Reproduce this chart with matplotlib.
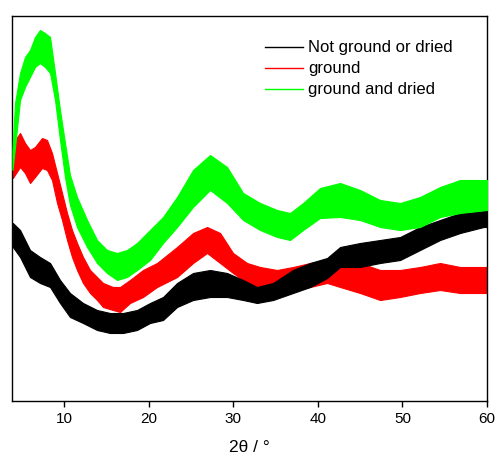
import matplotlib
matplotlib.use("Agg")
import matplotlib.pyplot as plt
from matplotlib.lines import Line2D

plt.rcParams['font.family'] = ['Liberation Sans', 'DejaVu Sans']

# 2theta (deg) and lower / upper envelope of the noisy trace (arb. units)
x_black = [3.9, 4.75, 5.93, 7.11, 8.3, 9.48, 10.66, 12.2, 13.86, 15.4, 16.94, 18.59,
           20.13, 21.67, 23.33, 25.22, 27.23, 29.24, 31.14, 32.79, 34.69, 37.05,
           39.07, 41.08, 42.62, 44.98, 47.35, 49.72, 52.08, 54.45, 56.82, 59.6, 60.0]
lo_black = [154, 144, 124, 118, 114, 98, 84, 78, 71, 68, 68, 71,
            78, 81, 94, 101, 104, 104, 101, 98, 101, 108,
            114, 123, 134, 134, 138, 141, 151, 161, 168, 174, 174]
hi_black = [178, 171, 151, 144, 138, 121, 108, 98, 91, 88, 88, 91,
            98, 104, 118, 128, 131, 128, 121, 114, 118, 131,
            138, 143, 154, 158, 161, 164, 174, 181, 188, 191, 191]

x_red = [3.9, 4.75, 5.34, 5.93, 6.52, 7.35, 7.94, 8.53, 9.13, 9.72, 10.31, 10.9,
         11.49, 12.2, 13.03, 13.86, 14.57, 15.75, 16.58, 17.76, 19.3, 20.96,
         23.33, 25.22, 26.88, 28.42, 29.95, 31.61, 33.15, 35.16, 37.05, 39.07,
         41.08, 42.62, 44.98, 47.35, 49.72, 52.08, 54.45, 56.82, 60.0]
lo_red = [223, 234, 228, 218, 224, 233, 231, 221, 198, 181, 161, 144,
          131, 118, 108, 101, 94, 91, 89, 98, 104, 114,
          124, 138, 148, 138, 128, 118, 114, 108, 111, 114,
          118, 114, 108, 101, 104, 108, 111, 108, 108]
hi_red = [258, 268, 258, 251, 254, 263, 261, 248, 228, 208, 188, 171,
          158, 144, 131, 124, 118, 114, 114, 121, 131, 138,
          154, 168, 174, 168, 148, 138, 134, 131, 134, 138,
          141, 144, 138, 131, 131, 134, 138, 134, 134]

x_green = [3.85, 4.16, 4.75, 5.34, 5.93, 6.52, 7.11, 7.7, 8.3, 8.89, 9.48, 10.07,
           10.66, 11.49, 12.68, 13.86, 15.04, 16.23, 17.41, 18.59, 20.13, 21.67,
           23.33, 25.22, 27.23, 29.24, 31.14, 33.15, 35.16, 36.7, 38.24, 40.25,
           42.62, 44.98, 47.35, 49.72, 52.08, 54.45, 56.82, 60.0]
lo_green = [231, 254, 301, 314, 324, 334, 338, 334, 328, 301, 261, 224,
            196, 174, 154, 138, 128, 121, 124, 131, 141, 158,
            174, 194, 211, 198, 181, 171, 164, 161, 171, 183,
            184, 181, 174, 171, 174, 184, 188, 191]
hi_green = [251, 298, 328, 344, 351, 364, 371, 368, 364, 328, 291, 258,
            226, 204, 181, 161, 151, 148, 151, 158, 171, 184,
            204, 231, 246, 234, 208, 198, 191, 188, 198, 213,
            218, 211, 201, 198, 204, 214, 221, 221]

labels = ["Not ground or dried", "ground", "ground and dried"]
colors = ["#000000", "#ff0000", "#00ff00"]

fig = plt.figure(figsize=(4.96, 4.59), dpi=100)
ax = fig.add_axes([12/496, 1 - 401/459, (487 - 12)/496, (401 - 16)/459])

series = [(x_red, lo_red, hi_red, colors[1], 1),
          (x_black, lo_black, hi_black, colors[0], 2),
          (x_green, lo_green, hi_green, colors[2], 3)]
for xs, lo, hi, c, z in series:
    ax.fill_between(xs, lo, hi, color=c, lw=0.8, edgecolor=c, zorder=z)

ax.set_xlim(3.8, 60)
ax.set_ylim(0, 385)
ax.set_yticks([])
ax.set_xticks([10, 20, 30, 40, 50, 60])
ax.tick_params(axis='x', direction='out', length=4, width=1, labelsize=11, pad=4)
for s in ax.spines.values():
    s.set_linewidth(1.0)
ax.set_xlabel("2θ / °", fontsize=12.5, labelpad=10)

handles = [Line2D([], [], color=c, lw=1) for c in colors]
ax.legend(handles, labels, loc='upper left', bbox_to_anchor=(0.518, 0.954),
          frameon=False, fontsize=12, handlelength=2.3, handletextpad=0.3,
          labelspacing=0.36, borderaxespad=0)

fig.savefig("out.png", dpi=100)
